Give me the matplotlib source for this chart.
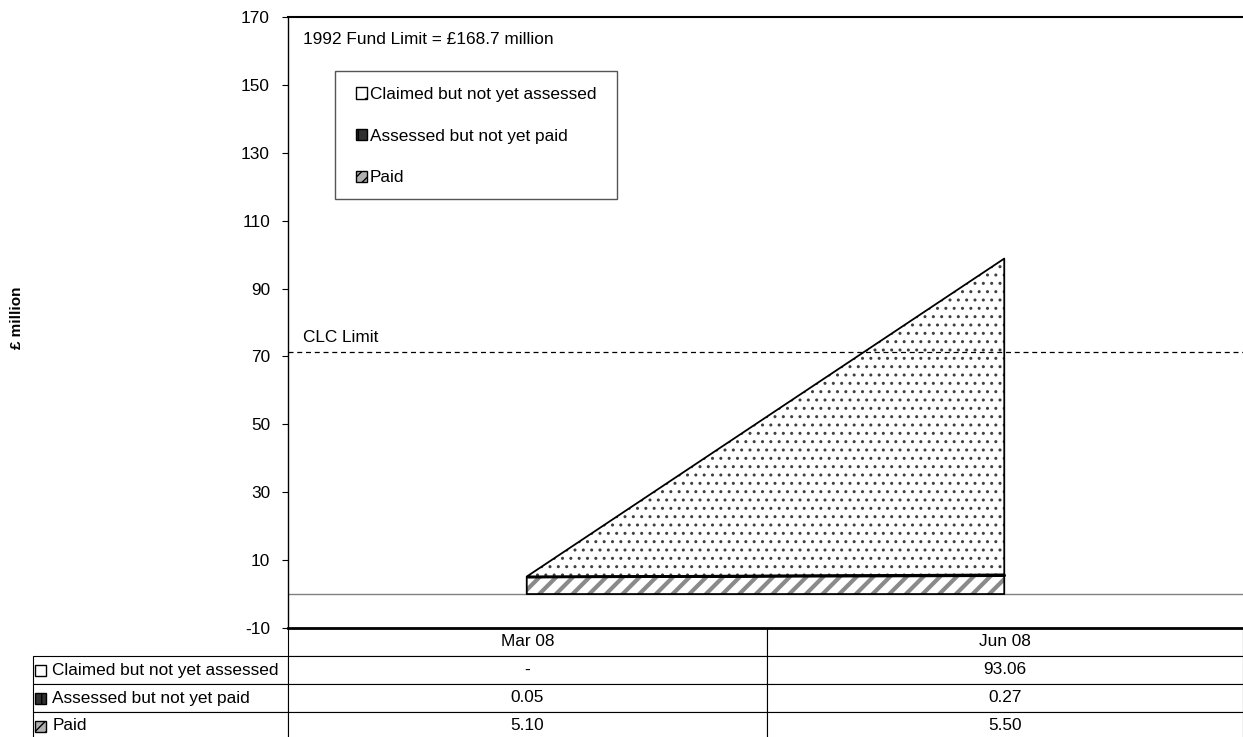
import matplotlib
matplotlib.use("Agg")
import numpy as np
import matplotlib.pyplot as plt
from matplotlib.patches import Patch, Rectangle
from matplotlib.table import Table

plt.rcParams['font.family'] = ['Liberation Sans', 'DejaVu Sans']
plt.rcParams['axes.unicode_minus'] = False

# data
periods = ['Mar 08', 'Jun 08']
claimed = [0.0, 93.06]
assessed = [0.05, 0.27]
paid = [5.10, 5.50]
series_names = ['Claimed but not yet assessed', 'Assessed but not yet paid', 'Paid']
table_text = [['-', '93.06'], ['0.05', '0.27'], ['5.10', '5.50']]
clc_limit = 71.3
fund_note = '1992 Fund Limit = £168.7 million'
yticks = list(range(-10, 171, 20))

FS = 12.4
W, H = 1243, 737
fig = plt.figure(figsize=(W / 100, H / 100), dpi=100)
ax_l, ax_r, ax_t, ax_b = 288, 1243, 17, 628
ax = fig.add_axes([ax_l / W, 1 - ax_b / H, (ax_r - ax_l) / W, (ax_b - ax_t) / H])

x = np.arange(len(periods))
paid = np.array(paid)
assessed = np.array(assessed)
claimed = np.array(claimed)
lvl1 = paid
lvl2 = paid + assessed
lvl3 = lvl2 + claimed

# paid band
plt.rcParams['hatch.linewidth'] = 3.0
plt.rcParams['hatch.color'] = '#8a8a8a'
ax.fill_between(x, 0, lvl1, facecolor='white', edgecolor='#8a8a8a', hatch='//', lw=0, zorder=2)
ax.fill_between(x, 0, lvl1, facecolor='none', edgecolor='black', lw=1.3, zorder=3)
# assessed band
ax.fill_between(x, lvl1, lvl2, facecolor='black', edgecolor='black', lw=1.6, zorder=3)
# claimed band
plt.rcParams['hatch.linewidth'] = 1.0
plt.rcParams['hatch.color'] = '#404040'
ax.fill_between(x, lvl2, lvl3, facecolor='white', edgecolor='#404040', hatch='..', lw=0, zorder=2)
ax.fill_between(x, lvl2, lvl3, facecolor='none', edgecolor='black', lw=1.3, zorder=3)

ax.axhline(0, color='#808080', lw=1, zorder=1)
ax.axhline(clc_limit, color='black', lw=0.9, ls=(0, (4, 3)), zorder=4)
ax.text(15 / 955, clc_limit + 2, 'CLC Limit', transform=ax.get_yaxis_transform(),
        fontsize=FS, va='bottom', ha='left')
ax.text(15 / 955, (ax_b - 40) / (ax_b - ax_t), fund_note, transform=ax.transAxes,
        fontsize=FS, va='center', ha='left')

ax.set_xlim(-0.5, 1.5)
ax.set_ylim(-10, 170)
ax.set_yticks(yticks)
ax.tick_params(axis='y', direction='out', length=4, width=0.8, pad=9, labelsize=FS)
ax.set_xticks([])
ax.spines['right'].set_visible(False)
ax.spines['top'].set_linewidth(1.5)
ax.spines['bottom'].set_linewidth(2)
ax.spines['left'].set_linewidth(1)

fig.text(17 / W, 1 - 318 / H, '£ million', rotation=90, fontsize=11,
         fontweight='bold', ha='center', va='center')

# legend swatches
plt.rcParams['hatch.linewidth'] = 1.0
styles = [dict(facecolor='white', edgecolor='black', hatch='.'),
          dict(facecolor='#303030', edgecolor='black', hatch='|'),
          dict(facecolor='#b0b0b0', edgecolor='black', hatch='///')]
handles = [Patch(label=n, lw=1, **s) for n, s in zip(series_names, styles)]
# legend box drawn separately so the padding can differ by side
ax.add_patch(Rectangle((335 / W, 1 - 199 / H), 282 / W, 128 / H, transform=fig.transFigure,
                       facecolor='white', edgecolor='#555555', lw=1, zorder=5, clip_on=False))
leg = ax.legend(handles=handles, loc='upper left',
                bbox_to_anchor=(356 / W, 1 - 87 / H), bbox_transform=fig.transFigure,
                fontsize=FS, frameon=False, handlelength=0.65, handleheight=0.65,
                handletextpad=0.15, labelspacing=1.55, borderpad=0,
                borderaxespad=0)
leg.set_zorder(6)

# data table
pw = ax_r - ax_l
ph = ax_b - ax_t
row_h = 28 / ph
lab_w = (ax_l - 33) / pw
col_w = [(767 - ax_l) / pw, (ax_r - 767) / pw]
nrows = len(series_names) + 1
tbl = Table(ax, bbox=[-lab_w, -nrows * row_h, lab_w + sum(col_w), nrows * row_h])
corner = tbl.add_cell(0, 0, lab_w, row_h, text='')
corner.visible_edges = 'open'
for j, p in enumerate(periods):
    tbl.add_cell(0, j + 1, col_w[j], row_h, text=p, loc='center')
for i, name in enumerate(series_names):
    c = tbl.add_cell(i + 1, 0, lab_w, row_h, text=name, loc='left')
    c.PAD = 0.075
    for j in range(len(periods)):
        tbl.add_cell(i + 1, j + 1, col_w[j], row_h, text=table_text[i][j], loc='center')
tbl.auto_set_font_size(False)
tbl.set_fontsize(FS)
for cell in tbl.get_celld().values():
    cell.set_linewidth(0.8)
ax.add_table(tbl)

# swatches in table row labels
sw = 11
for i, s in enumerate(styles):
    yc = 628 + 28 * (i + 1) + 14
    r = Rectangle(((35 - ax_l) / pw, (ax_b - yc - sw / 2) / ph), sw / pw, sw / ph,
                  transform=ax.transAxes, clip_on=False, lw=1, zorder=5, **s)
    ax.add_patch(r)

fig.savefig('out.png', dpi=100)
